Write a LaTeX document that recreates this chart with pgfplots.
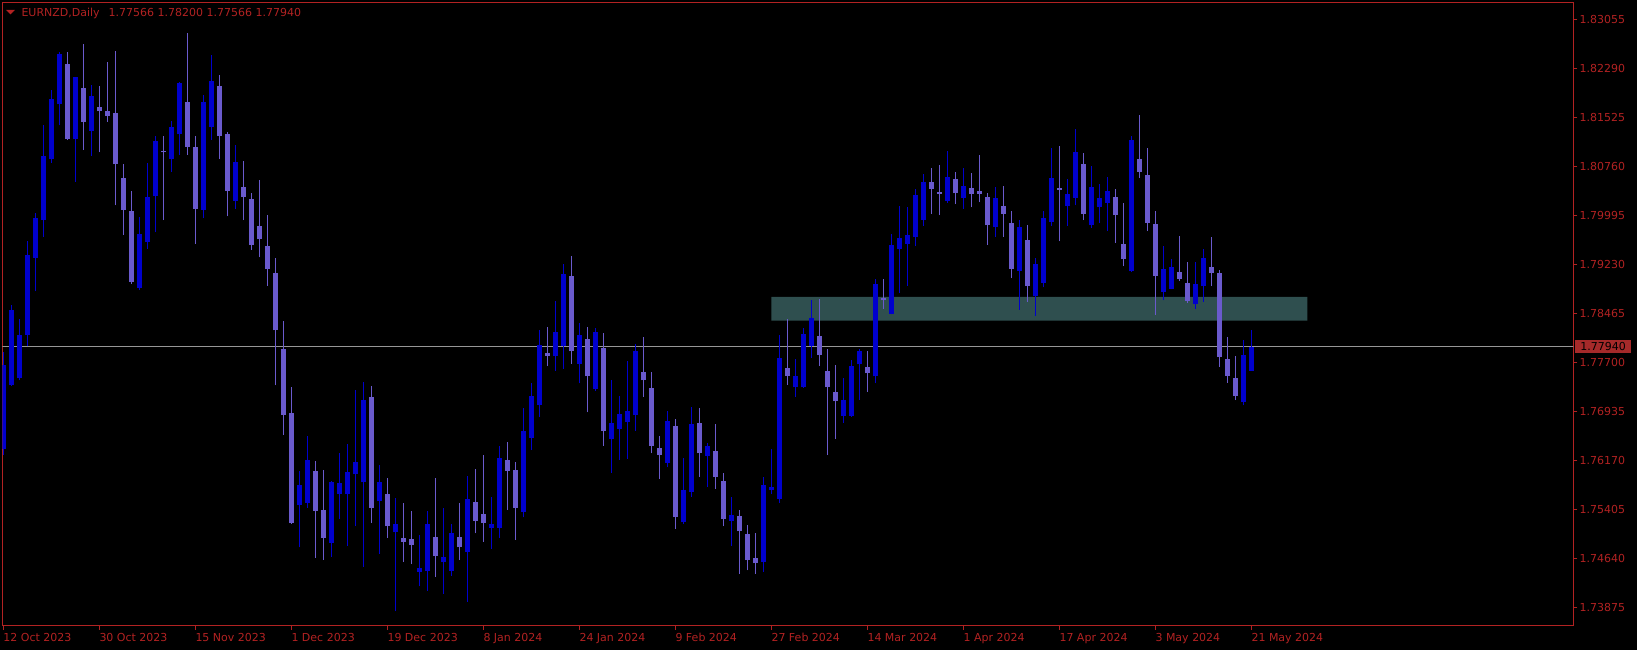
\documentclass[border=0pt]{standalone}
\usepackage{pgfplots}
\pgfplotsset{compat=1.18}
\usepackage{pgfplotstable}
\usepackage{fontspec}
\setmainfont{DejaVu Sans}

\definecolor{axred}{RGB}{178,34,34}
\definecolor{boxred}{RGB}{165,42,42}
\definecolor{bullc}{RGB}{0,0,205}
\definecolor{bearc}{RGB}{106,90,205}
\definecolor{zone}{RGB}{47,79,79}
\definecolor{pline}{RGB}{150,150,150}

% daily candles, i = bar index (0 = 12 Oct 2023)
\pgfplotstableread{
i O H L C
0 1.7635 1.7786 1.7626 1.7766
1 1.7734 1.7859 1.7733 1.7852
2 1.7745 1.7837 1.7742 1.7813
3 1.7813 1.7960 1.7795 1.7938
4 1.7933 1.8004 1.7881 1.7995
5 1.7992 1.8140 1.7966 1.8093
6 1.8087 1.8196 1.8082 1.8181
7 1.8173 1.8254 1.8140 1.8252
8 1.8236 1.8255 1.8117 1.8119
9 1.8119 1.8216 1.8052 1.8215
10 1.8199 1.8267 1.8102 1.8146
11 1.8132 1.8203 1.8093 1.8186
12 1.8169 1.8202 1.8098 1.8162
13 1.8162 1.8239 1.8146 1.8155
14 1.8160 1.8256 1.8015 1.8079
15 1.8058 1.8080 1.7969 1.8008
16 1.8006 1.8037 1.7892 1.7896
17 1.7886 1.7997 1.7883 1.7971
18 1.7958 1.8081 1.7947 1.8028
19 1.8030 1.8124 1.7973 1.8116
20 1.8100 1.8124 1.7992 1.8098
21 1.8088 1.8147 1.8068 1.8138
22 1.8126 1.8208 1.8094 1.8207
23 1.8177 1.8284 1.8094 1.8107
24 1.8107 1.8123 1.7955 1.8010
25 1.8008 1.8188 1.7995 1.8177
26 1.8137 1.8250 1.8118 1.8210
27 1.8201 1.8218 1.8088 1.8124
28 1.8127 1.8129 1.7998 1.8038
29 1.8022 1.8109 1.8010 1.8083
30 1.8044 1.8085 1.7992 1.8029
31 1.8025 1.8034 1.7946 1.7954
32 1.7983 1.8055 1.7934 1.7962
33 1.7952 1.8000 1.7890 1.7916
34 1.7909 1.7933 1.7734 1.7820
35 1.7791 1.7835 1.7657 1.7688
36 1.7691 1.7731 1.7518 1.7519
37 1.7548 1.7600 1.7481 1.7578
38 1.7551 1.7655 1.7543 1.7617
39 1.7600 1.7616 1.7465 1.7538
40 1.7540 1.7602 1.7462 1.7496
41 1.7488 1.7585 1.7466 1.7583
42 1.7565 1.7628 1.7526 1.7582
43 1.7564 1.7643 1.7483 1.7599
44 1.7595 1.7727 1.7514 1.7615
45 1.7583 1.7739 1.7451 1.7711
46 1.7716 1.7733 1.7519 1.7543
47 1.7553 1.7610 1.7471 1.7583
48 1.7564 1.7589 1.7496 1.7514
49 1.7505 1.7558 1.7381 1.7518
50 1.7496 1.7551 1.7458 1.7490
51 1.7494 1.7538 1.7455 1.7485
52 1.7443 1.7500 1.7420 1.7449
53 1.7444 1.7538 1.7413 1.7518
54 1.7498 1.7589 1.7435 1.7468
55 1.7459 1.7543 1.7408 1.7466
56 1.7444 1.7517 1.7437 1.7503
57 1.7498 1.7551 1.7461 1.7481
58 1.7474 1.7593 1.7396 1.7556
59 1.7552 1.7604 1.7503 1.7523
60 1.7533 1.7625 1.7490 1.7519
61 1.7512 1.7560 1.7479 1.7517
62 1.7512 1.7639 1.7496 1.7621
63 1.7617 1.7646 1.7540 1.7601
64 1.7602 1.7615 1.7493 1.7543
65 1.7537 1.7699 1.7528 1.7663
66 1.7652 1.7738 1.7633 1.7718
67 1.7704 1.7820 1.7685 1.7797
68 1.7784 1.7825 1.7764 1.7780
69 1.7780 1.7866 1.7757 1.7817
70 1.7795 1.7924 1.7760 1.7908
71 1.7905 1.7936 1.7768 1.7787
72 1.7768 1.7832 1.7737 1.7813
73 1.7806 1.7825 1.7692 1.7748
74 1.7729 1.7824 1.7725 1.7817
75 1.7793 1.7816 1.7640 1.7663
76 1.7651 1.7742 1.7598 1.7676
77 1.7666 1.7718 1.7618 1.7689
78 1.7677 1.7772 1.7619 1.7694
79 1.7688 1.7798 1.7663 1.7788
80 1.7755 1.7810 1.7716 1.7742
81 1.7730 1.7755 1.7628 1.7640
82 1.7636 1.7655 1.7588 1.7626
83 1.7613 1.7694 1.7606 1.7678
84 1.7670 1.7681 1.7510 1.7529
85 1.7520 1.7621 1.7517 1.7571
86 1.7568 1.7700 1.7560 1.7674
87 1.7676 1.7699 1.7591 1.7628
88 1.7624 1.7644 1.7575 1.7639
89 1.7632 1.7674 1.7573 1.7591
90 1.7585 1.7597 1.7514 1.7525
91 1.7523 1.7559 1.7484 1.7532
92 1.7530 1.7540 1.7440 1.7506
93 1.7502 1.7516 1.7445 1.7461
94 1.7465 1.7503 1.7440 1.7456
95 1.7459 1.7591 1.7443 1.7578
96 1.7570 1.7635 1.7564 1.7575
97 1.7557 1.7813 1.7551 1.7777
98 1.7761 1.7837 1.7735 1.7749
99 1.7731 1.7775 1.7716 1.7748
100 1.7731 1.7824 1.7730 1.7814
101 1.7796 1.7868 1.7777 1.7839
102 1.7811 1.7869 1.7764 1.7782
103 1.7756 1.7791 1.7625 1.7731
104 1.7723 1.7766 1.7650 1.7709
105 1.7687 1.7745 1.7676 1.7711
106 1.7687 1.7774 1.7685 1.7764
107 1.7767 1.7791 1.7712 1.7787
108 1.7763 1.7788 1.7724 1.7753
109 1.7748 1.7900 1.7737 1.7893
110 1.7870 1.7900 1.7854 1.7867
111 1.7846 1.7971 1.7845 1.7953
112 1.7947 1.8014 1.7878 1.7964
113 1.7955 1.8013 1.7890 1.7969
114 1.7966 1.8041 1.7951 1.8032
115 1.7992 1.8064 1.7983 1.8052
116 1.8052 1.8074 1.8002 1.8041
117 1.8036 1.8078 1.8000 1.8033
118 1.8022 1.8100 1.8019 1.8059
119 1.8056 1.8067 1.8017 1.8034
120 1.8027 1.8074 1.8010 1.8045
121 1.8042 1.8066 1.8012 1.8033
122 1.8037 1.8094 1.8020 1.8033
123 1.8028 1.8034 1.7954 1.7984
124 1.7982 1.8044 1.7966 1.8026
125 1.8014 1.8045 1.7966 1.8002
126 1.7988 1.8006 1.7902 1.7916
127 1.7913 1.7992 1.7852 1.7981
128 1.7961 1.7984 1.7864 1.7889
129 1.7873 1.7933 1.7843 1.7924
130 1.7894 1.8006 1.7887 1.7996
131 1.7989 1.8104 1.7983 1.8058
132 1.8042 1.8108 1.7959 1.8039
133 1.8014 1.8056 1.7983 1.8033
134 1.8027 1.8135 1.8015 1.8098
135 1.8080 1.8097 1.7992 1.8002
136 1.7984 1.8077 1.7980 1.8044
137 1.8012 1.8048 1.7988 1.8026
138 1.8019 1.8059 1.7975 1.8037
139 1.8028 1.8041 1.7957 1.8000
140 1.7955 1.8019 1.7920 1.7931
141 1.7912 1.8124 1.7911 1.8117
142 1.8087 1.8157 1.8058 1.8067
143 1.8063 1.8104 1.7975 1.7988
144 1.7986 1.8006 1.7844 1.7905
145 1.7880 1.7952 1.7867 1.7916
146 1.7885 1.7931 1.7884 1.7919
147 1.7911 1.7968 1.7897 1.7900
148 1.7894 1.7927 1.7863 1.7866
149 1.7861 1.7927 1.7854 1.7892
150 1.7889 1.7947 1.7865 1.7933
151 1.7919 1.7966 1.7889 1.7909
152 1.7909 1.7914 1.7763 1.7778
153 1.7775 1.7810 1.7738 1.7749
154 1.7745 1.7780 1.7711 1.7718
155 1.7708 1.7805 1.7703 1.7782
156 1.77566 1.78200 1.77566 1.77940
}\candles

\begin{document}
\begin{tikzpicture}[font=\fontsize{11}{13}\selectfont]
\useasboundingbox (0,0) rectangle (1637pt,650pt);
\fill[black] (0,0) rectangle (1637pt,650pt);
\begin{axis}[
  at={(2.3pt,647.5pt)}, anchor=north west,
  scale only axis, width=1571pt, height=623.5pt,
  xmin=-0.125, xmax=196.25, ymin=1.73583, ymax=1.83320,
  axis line style={axred, line width=1pt},
  tick align=outside, major tick length=4pt,
  tick style={axred, line width=1pt},
  xtick pos=left, ytick pos=right, yticklabel pos=right,
  xtick={0,12,...,156},
  xticklabels={12 Oct 2023,30 Oct 2023,15 Nov 2023,1 Dec 2023,19 Dec 2023,8 Jan 2024,24 Jan 2024,9 Feb 2024,27 Feb 2024,14 Mar 2024,1 Apr 2024,17 Apr 2024,3 May 2024,21 May 2024},
  ytick={1.73875,1.74640,1.75405,1.76170,1.76935,1.77700,1.78465,1.79230,1.79995,1.80760,1.81525,1.82290,1.83055},
  yticklabels={1.73875,1.74640,1.75405,1.76170,1.76935,1.77700,1.78465,1.79230,1.79995,1.80760,1.81525,1.82290,1.83055},
  xticklabel style={anchor=north west, inner sep=0pt, text=axred, yshift=-3pt},
  yticklabel style={anchor=west, inner sep=0pt, text=axred, xshift=2pt},
  error bars/y dir=both, error bars/y explicit, error bars/error mark=none,
]
% support zone
\addplot[fill=zone, draw=none] coordinates {(96,1.78351) (163,1.78351) (163,1.78721) (96,1.78721) (96,1.78351)};
% current price line
\addplot[pline, line width=1pt] coordinates {(-1,1.7794) (200,1.7794)};
% wicks
\addplot[draw=none, mark=none, restrict expr to domain={\thisrow{C}-\thisrow{O}}{0:1},
  error bars/error bar style={bullc, line width=1pt}]
  table[x=i, y=L, y error plus expr={\thisrow{H}-\thisrow{L}}, y error minus expr={0}] {\candles};
\addplot[draw=none, mark=none, restrict expr to domain={\thisrow{C}-\thisrow{O}}{-1:-0.00001},
  error bars/error bar style={bearc, line width=1pt}]
  table[x=i, y=L, y error plus expr={\thisrow{H}-\thisrow{L}}, y error minus expr={0}] {\candles};
% bodies
\addplot[draw=none, mark=none, restrict expr to domain={\thisrow{C}-\thisrow{O}}{0:1},
  error bars/error bar style={bullc, line width=5pt}]
  table[x=i, y=O, y error plus expr={max(\thisrow{C}-\thisrow{O},0.00015)}, y error minus expr={0}] {\candles};
\addplot[draw=none, mark=none, restrict expr to domain={\thisrow{C}-\thisrow{O}}{-1:-0.00001},
  error bars/error bar style={bearc, line width=5pt}]
  table[x=i, y=C, y error plus expr={max(\thisrow{O}-\thisrow{C},0.00015)}, y error minus expr={0}] {\candles};
\end{axis}
% header
\fill[axred] (6pt,640pt) -- (15pt,640pt) -- (10.5pt,635.5pt) -- cycle;
\node[anchor=base west, inner sep=0pt, text=axred] at (21.3pt,633.5pt)
  {EURNZD,Daily\hspace{9pt}1.77566 1.78200 1.77566 1.77940};
% last price tag
\node[anchor=west, fill=boxred, text=black, inner sep=0pt, minimum width=56pt, minimum height=13pt] at (1575pt,303pt) {1.77940};
\end{tikzpicture}
\end{document}
